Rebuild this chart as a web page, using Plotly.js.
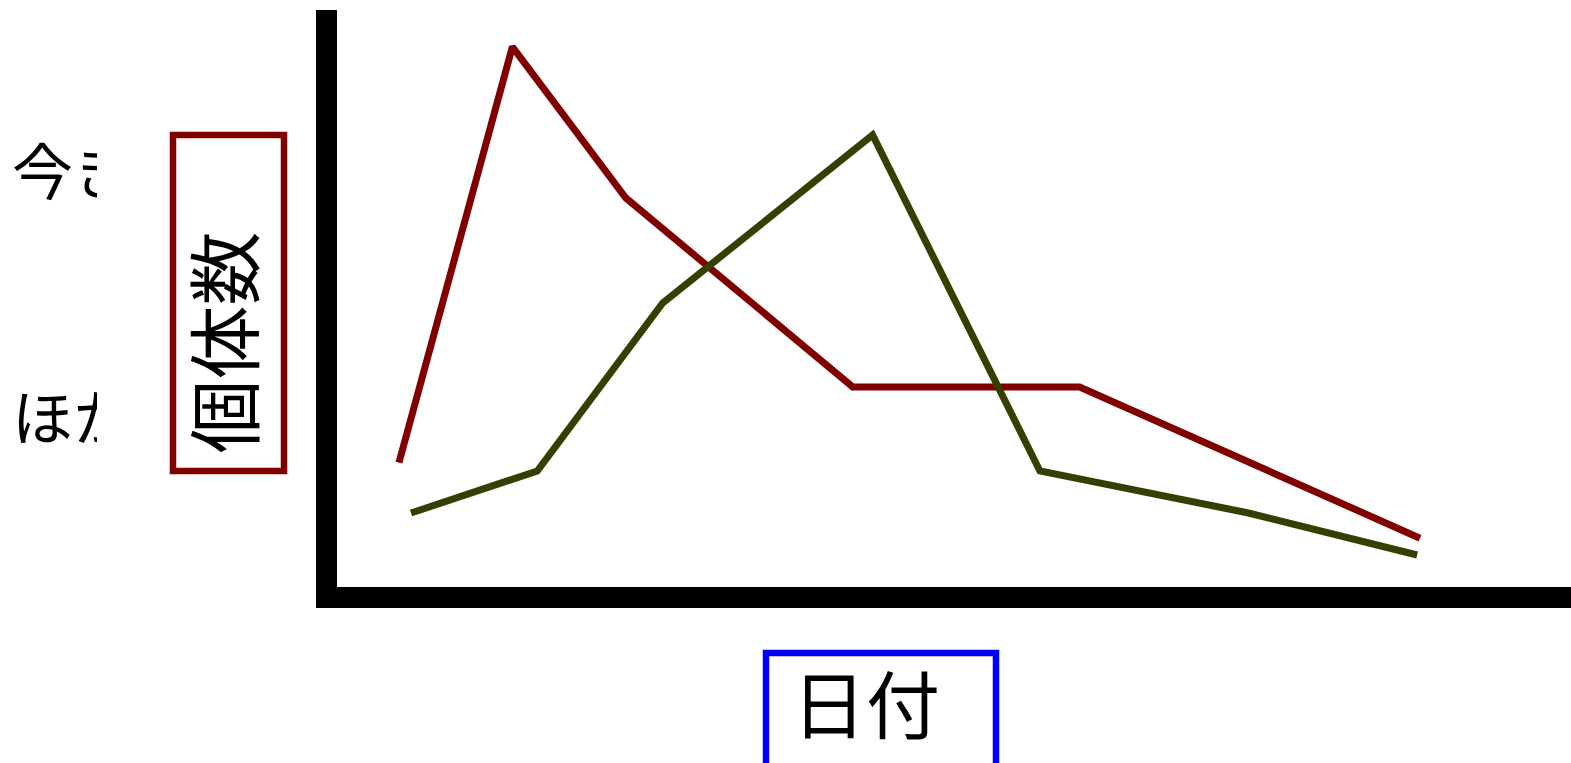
<!DOCTYPE html>
<html>
<head>
<meta charset="utf-8">
<script src="https://cdn.plot.ly/plotly-3.0.1.min.js"></script>
<style>html,body{margin:0;padding:0;background:#fff;}</style>
</head>
<body>
<div id="chart" style="width:1571px;height:763px;"></div>
<script>
// ---- data (x in days, y in individuals) ----
const seriesNames = ["今き", "ほか"];
const redX = [0, 8, 16, 32, 48, 72];
const redY = [3.2, 13.1, 9.5, 5, 5, 1.4];
const greenX = [0.85, 9.75, 18.6, 33.4, 45.2, 59.9, 71.8];
const greenY = [2, 3, 7, 11, 3, 2, 1];
const xTitle = "日付";
const yTitle = "個体数";

// ---- layout geometry ----
const W = 1571, H = 763;
const M = {l: 337, r: 0, t: 10, b: 176};
const PW = W - M.l - M.r, PH = H - M.t - M.b;
const px2x = p => (p - M.l) / PW;          // pixel -> paper x
const px2y = p => (M.t + PH - p) / PH;     // pixel -> paper y
const FONT = '"Noto Sans CJK JP", "Noto Sans CJK SC", sans-serif';

const traces = [
  {x: redX, y: redY, mode: 'lines', name: seriesNames[0],
   line: {color: '#800000', width: 7}, hoverinfo: 'skip'},
  {x: greenX, y: greenY, mode: 'lines', name: seriesNames[1],
   line: {color: '#334000', width: 7}, hoverinfo: 'skip'}
];

const layout = {
  width: W, height: H,
  margin: M,
  paper_bgcolor: '#ffffff', plot_bgcolor: '#ffffff',
  showlegend: false,
  font: {family: FONT, color: '#000'},
  xaxis: {range: [-4.37, 82.65], showline: true, linecolor: '#000', linewidth: 21,
          showgrid: false, zeroline: false, showticklabels: false, ticks: ''},
  yaxis: {range: [0.238, 13.976], showline: true, linecolor: '#000', linewidth: 21,
          showgrid: false, zeroline: false, showticklabels: false, ticks: ''},
  shapes: [
    {type: 'rect', xref: 'paper', yref: 'paper',
     x0: px2x(173), x1: px2x(284), y0: px2y(471), y1: px2y(135),
     line: {color: '#800000', width: 6.5}},
    {type: 'rect', xref: 'paper', yref: 'paper',
     x0: px2x(766), x1: px2x(996), y0: px2y(820), y1: px2y(653),
     line: {color: '#0000ff', width: 6.5}}
  ],
  annotations: [
    {text: yTitle, textangle: -90, xref: 'paper', yref: 'paper', x: 0, y: 1,
     xanchor: 'center', yanchor: 'middle', xshift: 219.5 - M.l, yshift: -(343 - M.t),
     showarrow: false, font: {size: 74, color: '#000', family: FONT}},
    {text: xTitle, xref: 'paper', yref: 'paper', x: 0, y: 1,
     xanchor: 'center', yanchor: 'middle', xshift: 866 - M.l, yshift: -(700 - M.t),
     showarrow: false, font: {size: 74, color: '#000', family: FONT}},
    {text: seriesNames[0], xref: 'paper', yref: 'paper', x: 0, y: 1,
     xanchor: 'left', yanchor: 'middle', xshift: 12 - M.l, yshift: -(168.5 - M.t),
     width: 85, align: 'left', borderpad: 0, borderwidth: 0,
     showarrow: false, font: {size: 61, color: '#000', family: FONT}},
    {text: seriesNames[1], xref: 'paper', yref: 'paper', x: 0, y: 1,
     xanchor: 'left', yanchor: 'middle', xshift: 12 - M.l, yshift: -(414.5 - M.t),
     width: 85, align: 'left', borderpad: 0, borderwidth: 0,
     showarrow: false, font: {size: 61, color: '#000', family: FONT}}
  ]
};

Plotly.newPlot('chart', traces, layout, {displayModeBar: false, staticPlot: true});
</script>
</body>
</html>
